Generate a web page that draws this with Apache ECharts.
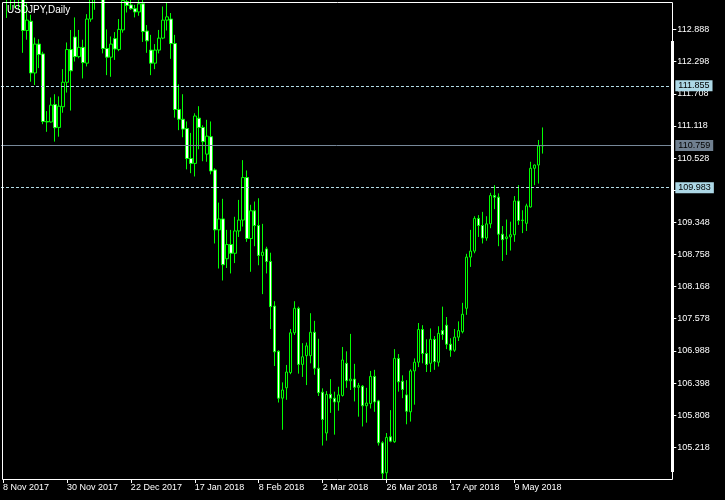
<!DOCTYPE html>
<html><head><meta charset="utf-8">
<script src="https://cdn.jsdelivr.net/npm/echarts@6/dist/echarts.min.js"></script>
<style>html,body{margin:0;padding:0;background:#000;}#c{width:725px;height:500px;}</style>
</head><body><div id="c"></div>
<script>
const dates = [
"8 Nov 2017","9 Nov 2017","10 Nov 2017","13 Nov 2017","14 Nov 2017","15 Nov 2017","16 Nov 2017","17 Nov 2017","20 Nov 2017","21 Nov 2017","22 Nov 2017","23 Nov 2017","24 Nov 2017","27 Nov 2017","28 Nov 2017","29 Nov 2017","30 Nov 2017",
"1 Dec 2017","4 Dec 2017","5 Dec 2017","6 Dec 2017","7 Dec 2017","8 Dec 2017","11 Dec 2017","12 Dec 2017","13 Dec 2017","14 Dec 2017","15 Dec 2017","18 Dec 2017","19 Dec 2017","20 Dec 2017","21 Dec 2017","22 Dec 2017","26 Dec 2017","27 Dec 2017","28 Dec 2017","29 Dec 2017",
"2 Jan 2018","3 Jan 2018","4 Jan 2018","5 Jan 2018","8 Jan 2018","9 Jan 2018","10 Jan 2018","11 Jan 2018","12 Jan 2018","15 Jan 2018","16 Jan 2018","17 Jan 2018","18 Jan 2018","19 Jan 2018","22 Jan 2018","23 Jan 2018","24 Jan 2018","25 Jan 2018","26 Jan 2018","29 Jan 2018","30 Jan 2018","31 Jan 2018",
"1 Feb 2018","2 Feb 2018","5 Feb 2018","6 Feb 2018","7 Feb 2018","8 Feb 2018","9 Feb 2018","12 Feb 2018","13 Feb 2018","14 Feb 2018","15 Feb 2018","16 Feb 2018","19 Feb 2018","20 Feb 2018","21 Feb 2018","22 Feb 2018","23 Feb 2018","26 Feb 2018","27 Feb 2018","28 Feb 2018",
"1 Mar 2018","2 Mar 2018","5 Mar 2018","6 Mar 2018","7 Mar 2018","8 Mar 2018","9 Mar 2018","12 Mar 2018","13 Mar 2018","14 Mar 2018","15 Mar 2018","16 Mar 2018","19 Mar 2018","20 Mar 2018","21 Mar 2018","22 Mar 2018","23 Mar 2018","26 Mar 2018","27 Mar 2018","28 Mar 2018","29 Mar 2018","30 Mar 2018",
"2 Apr 2018","3 Apr 2018","4 Apr 2018","5 Apr 2018","6 Apr 2018","9 Apr 2018","10 Apr 2018","11 Apr 2018","12 Apr 2018","13 Apr 2018","16 Apr 2018","17 Apr 2018","18 Apr 2018","19 Apr 2018","20 Apr 2018","23 Apr 2018","24 Apr 2018","25 Apr 2018","26 Apr 2018","27 Apr 2018","30 Apr 2018",
"1 May 2018","2 May 2018","3 May 2018","4 May 2018","7 May 2018","8 May 2018","9 May 2018","10 May 2018","11 May 2018","14 May 2018","15 May 2018","16 May 2018","17 May 2018","18 May 2018"
];
// OHLC from 9 Nov 2017 (8 Nov bar is hidden behind the left border)
const opens = [113.80,113.45,113.55,113.60,113.45,112.87,113.04,112.09,112.62,112.44,111.20,111.19,111.51,111.09,111.47,111.92,112.52,112.75,112.39,112.56,112.27,113.08,113.50,113.55,113.50,112.54,112.38,112.72,112.52,112.88,113.40,113.34,113.27,113.21,113.36,112.86,112.51,112.27,112.51,112.73,113.06,113.08,112.63,111.42,111.24,111.07,110.52,110.43,111.26,111.09,110.60,110.92,110.31,109.21,109.41,108.68,108.94,108.78,109.19,109.39,110.17,109.05,109.56,109.29,108.74,108.86,108.63,107.81,106.98,106.12,106.31,106.59,107.32,107.77,106.74,106.90,106.90,107.33,106.67,106.23,105.48,106.19,106.12,106.05,106.17,106.76,106.44,106.47,106.32,106.34,105.98,106.02,106.52,106.07,105.30,104.75,105.41,105.32,106.85,106.43,106.18,105.87,106.62,106.78,107.38,106.94,106.76,107.20,106.78,107.36,107.46,107.11,107.00,107.24,107.34,107.77,108.71,108.82,109.42,109.29,109.06,109.32,109.84,109.81,109.13,109.05,109.08,109.12,109.74,109.38,109.33,109.63,110.34,110.40,110.75];
const highs = [114.05,113.85,113.90,113.90,113.60,113.37,113.16,112.74,112.71,112.48,111.39,111.64,111.70,111.66,112.16,112.65,112.88,113.11,112.88,112.70,113.17,113.65,113.70,113.75,113.60,112.89,112.76,112.84,113.08,113.50,113.55,113.45,113.34,113.45,113.45,112.97,112.79,112.62,112.88,113.31,113.38,113.19,112.79,111.88,111.70,111.20,110.99,111.35,111.48,111.13,111.23,111.20,110.34,109.71,109.78,109.21,109.21,109.45,109.76,110.49,110.30,109.67,109.73,109.79,109.32,108.90,108.79,107.90,107.00,106.41,106.73,107.39,107.90,107.80,107.13,107.14,107.68,107.54,107.21,106.30,106.25,106.47,106.24,106.33,107.06,106.98,107.30,106.75,106.40,106.36,106.31,106.62,106.64,106.09,105.33,105.48,105.90,107.02,106.93,106.54,106.45,106.65,106.85,107.50,107.46,107.20,107.40,107.26,107.44,107.80,107.61,107.22,107.39,107.53,107.87,108.77,109.21,109.46,109.48,109.54,109.46,109.89,110.03,109.88,109.28,109.40,109.36,109.83,110.03,109.57,109.69,110.46,110.41,110.86,111.09];
const lows = [113.10,113.25,113.28,113.25,112.46,112.70,111.93,111.87,112.18,111.15,111.01,111.18,110.83,110.92,111.36,111.73,111.40,112.30,112.36,111.99,112.21,113.03,113.25,113.40,112.45,112.05,112.02,112.33,112.49,112.83,113.20,113.25,113.11,113.14,112.66,112.46,112.05,112.16,112.45,112.71,112.87,112.35,111.27,111.04,110.91,110.32,110.25,110.19,110.69,110.47,110.46,110.23,108.96,108.50,108.28,108.51,108.41,108.60,109.08,109.27,108.99,108.44,108.91,108.56,108.03,108.41,107.39,106.71,106.04,105.54,106.09,106.56,107.28,106.57,106.51,106.36,106.76,106.55,106.16,105.25,105.34,105.85,105.45,105.89,106.15,106.31,106.27,106.06,105.78,105.60,105.67,105.93,105.87,105.25,104.63,104.62,105.31,105.30,106.24,106.12,105.64,105.69,106.00,106.69,106.76,106.60,106.60,106.64,106.70,107.19,107.02,106.88,106.97,107.17,107.31,107.65,108.53,108.78,109.08,108.96,109.01,109.24,109.59,108.91,108.64,108.75,108.83,108.99,109.30,109.15,109.19,109.62,110.03,110.06,110.61];
const closes = [113.45,113.55,113.60,113.45,112.87,113.06,112.09,112.62,112.43,111.20,111.19,111.50,111.085,111.48,111.92,112.52,112.13,112.39,112.56,112.28,113.08,113.50,113.55,113.50,112.54,112.38,112.62,112.53,112.89,113.42,113.33,113.27,113.21,113.36,112.85,112.68,112.27,112.51,112.73,113.06,113.12,112.63,111.42,111.24,111.06,110.52,110.43,111.30,111.09,110.83,110.93,110.29,109.21,109.41,108.57,108.94,108.78,109.19,109.39,110.17,109.05,109.56,109.29,108.74,108.80,108.63,107.80,106.97,106.12,106.27,106.60,107.32,107.77,106.74,106.88,107.08,107.33,106.67,106.22,105.73,106.19,106.12,106.05,106.18,106.82,106.44,106.47,106.32,106.35,105.98,106.03,106.52,106.05,105.30,104.74,105.40,105.33,106.85,106.42,106.28,105.88,106.62,106.78,107.38,106.94,106.74,107.20,106.79,107.31,107.29,107.11,107.00,107.24,107.36,107.66,108.71,108.82,109.42,109.29,109.06,109.32,109.84,109.81,109.13,109.03,109.08,109.12,109.74,109.38,109.39,109.65,110.34,110.40,110.75,110.759];
const priceTicks = [112.888,112.298,111.708,111.118,110.528,109.938,109.348,108.758,108.168,107.578,106.988,106.398,105.808,105.218];
const levelLines = [111.855,109.983];
const lastPrice = 110.759;

const nBars = dates.length;
const cats = dates.slice();
for (let k = 0; k < 32; k++) cats.push('pad' + k);
const candleData = [ '-' ];
for (let i = 0; i < opens.length; i++) candleData.push([opens[i], closes[i], lows[i], highs[i]]);

const showIdx = (idx) => idx % 16 === 0 && idx < nBars;
const FONT = 'Liberation Sans, Arial, sans-serif';
const chart = echarts.init(document.getElementById('c'), null, {renderer: 'canvas'});
chart.setOption({
  backgroundColor: '#000000',
  animation: false,
  title: { text: 'USDJPY,Daily', left: 7, top: 5, padding: 0, textStyle: { color: '#ffffff', fontSize: 10, fontWeight: 'normal', fontFamily: FONT } },
  grid: { left: 0.33, top: 2, width: 672, height: 477, containLabel: false },
  xAxis: {
    type: 'category', data: cats, boundaryGap: true,
    axisLine: { show: false },
    axisTick: { show: true, alignWithLabel: true, interval: (i) => showIdx(i), length: 4, lineStyle: { color: '#ffffff', width: 1 } },
    axisLabel: { interval: (i) => showIdx(i), align: 'left', color: '#ffffff', fontSize: 9, fontFamily: FONT, margin: 4 },
    splitLine: { show: false }
  },
  yAxis: {
    type: 'value', position: 'right', min: 104.636, max: 113.393, scale: true,
    axisLine: { show: false },
    axisTick: { show: true, customValues: priceTicks, length: 4, lineStyle: { color: '#ffffff' } },
    axisLabel: { customValues: priceTicks, color: '#ffffff', fontSize: 9, fontFamily: FONT, margin: 5, formatter: (v) => v.toFixed(3) },
    splitLine: { show: false }
  },
  series: [{
    type: 'candlestick', data: candleData, barWidth: 3, clip: true,
    itemStyle: { color: '#000000', color0: '#ffffff', borderColor: '#00ff00', borderColor0: '#00ff00', borderColorDoji: '#00ff00', borderWidth: 1 },
    markLine: {
      silent: true, symbol: 'none', animation: false, precision: 3,
      data: [
        { yAxis: levelLines[0], lineStyle: { color: '#b4dce6', type: [3, 2], width: 1 }, label: { backgroundColor: '#add8e6' } },
        { yAxis: levelLines[1], lineStyle: { color: '#b4dce6', type: [3, 2], width: 1 }, label: { backgroundColor: '#add8e6' } },
        { yAxis: lastPrice, lineStyle: { color: '#778899', type: 'solid', width: 1 }, label: { backgroundColor: '#708090' } }
      ],
      label: { show: true, position: 'end', distance: 3, color: '#000000', fontSize: 9, fontFamily: FONT, padding: [1, 3, 0, 3], lineHeight: 10, formatter: (p) => Number(p.value).toFixed(3) }
    }
  }],
  graphic: [
    { type: 'rect', z: 100, silent: true, shape: { x: 2.5, y: 2.5, width: 670, height: 477 }, style: { fill: null, stroke: '#ffffff', lineWidth: 1 } },
    { type: 'rect', z: 100, silent: true, shape: { x: 671, y: 41, width: 3, height: 431 }, style: { fill: '#ffffff' } }
  ]
});
</script></body></html>
